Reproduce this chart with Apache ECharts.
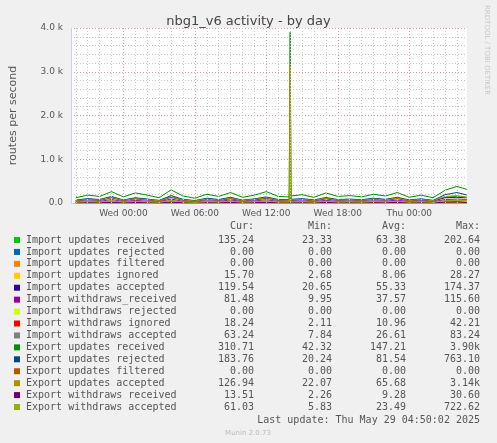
<!DOCTYPE html>
<html>
<head>
<meta charset="utf-8">
<script src="https://cdn.jsdelivr.net/npm/echarts@6/dist/echarts.min.js"></script>
<style>
  html, body { margin: 0; padding: 0; background: #f0f0f0; }
  #chart { width: 497px; height: 443px; }
</style>
</head>
<body>
<div id="chart"></div>
<script>
// hours since Tue 00:00
const hours = [20,21,22,23,24,25,26,27,28,29,30,31,32,33,34,35,36,37,
  37.917,38,38.083,
  39,40,41,42,43,44,45,46,47,48,49,50,51,52,52.833];

const names = [
  "Import updates received", "Import updates rejected", "Import updates filtered",
  "Import updates ignored", "Import updates accepted", "Import withdraws_received",
  "Import withdraws rejected", "Import withdraws ignored", "Import withdraws accepted",
  "Export updates received", "Export updates rejected", "Export updates filtered",
  "Export updates accepted", "Export withdraws received", "Export withdraws accepted"
];
const colors = ["#00cc00","#0066b3","#ff8000","#ffcc00","#330099","#990099","#ccff00",
  "#ff0000","#808080","#008f00","#00487d","#b35a00","#b38f00","#6b006b","#8fb300"];
const curVals = ["135.24","0.00","0.00","15.70","119.54","81.48","0.00","18.24","63.24",
  "310.71","183.76","0.00","126.94","13.51","61.03"];
const minVals = ["23.33","0.00","0.00","2.68","20.65","9.95","0.00","2.11","7.84",
  "42.32","20.24","0.00","22.07","2.26","5.83"];
const avgVals = ["63.38","0.00","0.00","8.06","55.33","37.57","0.00","10.96","26.61",
  "147.21","81.54","0.00","65.68","9.28","23.49"];
const maxVals = ["202.64","0.00","0.00","28.27","174.37","115.60","0.00","42.21","83.24",
  "3.90k","763.10","0.00","3.14k","30.60","722.62"];

const zeros = [0,0,0,0,0,0,0,0,0,0,0,0,0,0,0,0,0,0,0,0,0,0,0,0,0,0,0,0,0,0,0,0,0,0,0,0];
const importRecv = [60,90,70,140,65,110,80,55,150,75,50,95,70,120,60,85,130,70, 65,200,70,
  90,60,110,70,80,65,95,75,115,60,85,55,140,150,135];
const importIgn = [6,9,7,14,6,11,8,5,15,7,5,9,7,12,6,8,13,7, 6,28,7,
  9,6,11,7,8,6,9,7,11,6,8,5,14,15,16];
const importAcc = [50,75,60,120,55,95,70,45,130,65,40,80,60,100,50,70,110,60, 55,174,60,
  75,50,95,60,70,55,80,65,100,50,70,45,120,130,120];
const importWdRecv = [30,45,35,80,32,60,40,28,90,38,25,50,35,70,30,45,75,35, 30,115,35,
  45,30,60,35,40,30,50,40,65,30,45,25,80,90,81];
const importWdIgn = [9,13,10,22,9,16,12,8,25,11,7,14,10,19,9,13,21,10, 9,42,10,
  13,9,17,10,12,9,14,11,18,9,13,7,24,26,18];
const importWdAcc = [20,32,25,55,22,42,28,18,62,27,16,35,25,48,20,32,52,25, 22,83,25,
  32,20,42,25,28,22,35,28,45,20,32,16,56,62,63];
const exportRecv = [120,180,150,260,140,230,180,120,300,160,110,200,150,240,130,180,260,150, 140,3900,160,
  190,130,230,150,170,140,200,160,240,130,180,120,290,380,311];
const exportRej = [65,100,80,150,70,120,90,60,170,85,55,110,80,130,65,95,140,80, 75,763,85,
  100,70,125,80,90,75,110,85,130,70,95,60,190,240,184];
const exportAcc = [55,80,65,130,60,100,75,50,140,70,45,90,65,110,55,80,120,65, 60,3140,70,
  85,55,105,65,75,60,90,70,110,55,80,50,150,170,127];
const exportWdRecv = [7,10,8,16,7,12,9,6,18,8,5,11,8,14,7,10,15,8, 7,30,8,
  10,7,13,8,9,7,11,9,14,7,10,5,20,24,14];
const exportWdAcc = [18,28,22,48,20,38,25,16,55,24,14,30,22,42,18,28,45,22, 20,722,22,
  28,18,38,22,25,20,30,25,40,18,28,14,50,58,61];

const seriesData = [importRecv, zeros, zeros, importIgn, importAcc, importWdRecv, zeros,
  importWdIgn, importWdAcc, exportRecv, exportRej, zeros, exportAcc, exportWdRecv, exportWdAcc];

const xLabels = { 24: "Wed 00:00", 30: "Wed 06:00", 36: "Wed 12:00", 42: "Wed 18:00", 48: "Thu 00:00" };
const minorHours = [20,21,22,23,25,26,27,28,29,31,32,33,34,35,37,38,39,40,41,43,44,45,46,47,49,50,51,52];
const majorHours = [24,30,36,42,48];

const chart = echarts.init(document.getElementById("chart"));

const series = seriesData.map((d, i) => ({
  type: "line",
  name: names[i],
  data: d.map((v, j) => [hours[j], v]),
  showSymbol: false,
  lineStyle: { width: 1, color: colors[i] },
  itemStyle: { color: colors[i] },
  animation: false,
  z: 3
}));

// vertical grid lines
series.unshift({
  type: "line", data: [], z: 1, silent: true, animation: false,
  markLine: {
    symbol: "none", silent: true, label: { show: false }, animation: false,
    data: minorHours.map(h => ({ xAxis: h, lineStyle: { color: "#c8c8c8", type: [1, 2], width: 1 } }))
      .concat(majorHours.map(h => ({ xAxis: h, lineStyle: { color: "#e09a9a", type: [1, 2], width: 1 } })))
  }
});

const mono = "DejaVu Sans Mono";
const rowY0 = 240, rowStep = 11.93;
const graphic = [];
["Cur:", "Min:", "Avg:", "Max:"].forEach((h, k) => {
  graphic.push({ type: "text", right: [243, 165, 91, 17][k], top: 221,
    style: { text: h, font: "10px " + mono, fill: "#555" } });
});
names.forEach((n, i) => {
  const y = rowY0 + i * rowStep;
  graphic.push({ type: "rect", shape: { x: 14, y: y - 3, width: 6, height: 6 }, style: { fill: colors[i] } });
  graphic.push({ type: "text", x: 26, y: y, style: { text: n, font: "10px " + mono, fill: "#555", textVerticalAlign: "middle" } });
  [curVals, minVals, avgVals, maxVals].forEach((arr, k) => {
    graphic.push({ type: "text", x: [254, 332, 406, 480][k], y: y,
      style: { text: arr[i], font: "10px " + mono, fill: "#555", textAlign: "right", textVerticalAlign: "middle" } });
  });
});
graphic.push({ type: "text", x: 480, y: 420, style: { text: "Last update: Thu May 29 04:50:02 2025",
  font: "10px " + mono, fill: "#555", textAlign: "right", textVerticalAlign: "middle" } });
graphic.push({ type: "text", x: 248, y: 433, style: { text: "Munin 2.0.73",
  font: "7px DejaVu Sans", fill: "#bbb", textAlign: "center", textVerticalAlign: "middle" } });
graphic.push({ type: "text", x: 490, y: 5, rotation: -Math.PI / 2, style: { text: "RRDTOOL / TOBI OETIKER",
  font: "7px DejaVu Sans", fill: "#c8c8c8" } });

chart.setOption({
  backgroundColor: "#f0f0f0",
  animation: false,
  title: { text: "nbg1_v6 activity - by day", left: "center", top: 10,
    textStyle: { fontFamily: "DejaVu Sans", fontSize: 13, fontWeight: "normal", color: "#444" } },
  grid: { left: 67, right: 30, top: 28, bottom: 240, backgroundColor: "#fff", show: true, borderWidth: 0 },
  xAxis: {
    type: "value", min: 19.6, max: 52.85,
    axisLine: { lineStyle: { color: "#c8d0f8" } },
    axisTick: { show: false },
    splitLine: { show: false },
    axisLabel: { customValues: majorHours, formatter: v => xLabels[v] || "",
      color: "#555", fontFamily: "DejaVu Sans", fontSize: 9, margin: 6 }
  },
  yAxis: {
    type: "value", min: 0, max: 4000, interval: 1000,
    name: "routes per second", nameLocation: "middle", nameGap: 52,
    nameTextStyle: { fontFamily: "DejaVu Sans", fontSize: 11, color: "#555" },
    axisLine: { show: true, lineStyle: { color: "#c8d0f8" } },
    axisTick: { show: false },
    axisLabel: { formatter: v => v === 0 ? "0.0" : (v / 1000).toFixed(1) + " k",
      color: "#555", fontFamily: "DejaVu Sans", fontSize: 9, margin: 8 },
    splitLine: { lineStyle: { color: "#e09a9a", type: [1, 2] } },
    minorTick: { show: false, splitNumber: 5 },
    minorSplitLine: { show: true, lineStyle: { color: "#c8c8c8", type: [1, 2] } }
  },
  graphic: graphic,
  series: series
});
</script>
</body>
</html>
